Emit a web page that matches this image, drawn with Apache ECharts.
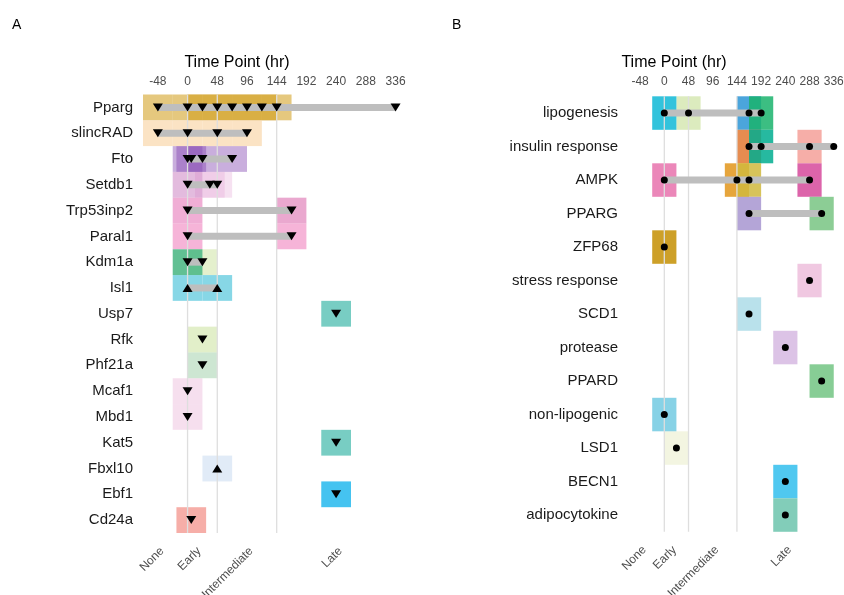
<!DOCTYPE html>
<html>
<head>
<meta charset="utf-8">
<script src="https://cdn.jsdelivr.net/npm/echarts@6/dist/echarts.min.js"></script>
<style>
  html, body { margin: 0; padding: 0; background: #fff; }
  #chart { width: 844px; height: 595px; }
</style>
</head>
<body>
<div id="chart"></div>
<script>
// panel A: genes and the time points (hr) where each one was reported
var genesA = ['Pparg', 'slincRAD', 'Fto', 'Setdb1', 'Trp53inp2', 'Paral1', 'Kdm1a', 'Isl1', 'Usp7',
  'Rfk', 'Phf21a', 'Mcaf1', 'Mbd1', 'Kat5', 'Fbxl10', 'Ebf1', 'Cd24a'];
var timesA = [
  [-48, 0, 24, 48, 72, 96, 120, 144, 336],
  [-48, 0, 48, 96],
  [0, 6, 24, 72],
  [0, 36, 48],
  [0, 168],
  [0, 168],
  [0, 24],
  [0, 48],
  [240],
  [24],
  [24],
  [0],
  [0],
  [240],
  [48],
  [240],
  [6]
];
// genes drawn with an upward triangle
var upGenesA = ['Isl1', 'Fbxl10'];

// panel B: terms and time points
var termsB = ['lipogenesis', 'insulin response', 'AMPK', 'PPARG', 'ZFP68', 'stress response', 'SCD1',
  'protease', 'PPARD', 'non-lipogenic', 'LSD1', 'BECN1', 'adipocytokine'];
var timesB = [
  [0, 48, 168, 192],
  [168, 192, 288, 336],
  [0, 144, 168, 288],
  [168, 312],
  [0],
  [288],
  [168],
  [240],
  [312],
  [0],
  [24],
  [240],
  [240]
];

// axis ticks and stage labels
var hourTicks = [-48, 0, 48, 96, 144, 192, 240, 288, 336];
var stageBreaks = [0, 48, 144];
var stageNames = ['None', 'Early', 'Intermediate', 'Late'];
var stageAt = [-48, 12, 96, 240];

// tile colours (one per time point, null = no tile)
var P = 'rgba(208,155,20,0.55)';
var F = 'rgba(135,75,180,0.45)';
var tileColorsA = [
  [P, P, P, P, P, P, P, P, null],
  ['rgba(248,208,157,0.6)', 'rgba(248,208,157,0.6)', 'rgba(248,208,157,0.6)', 'rgba(248,208,157,0.6)'],
  [F, F, F, F],
  ['rgba(200,120,190,0.5)', 'rgba(230,170,215,0.35)', 'rgba(230,170,215,0.35)'],
  ['rgba(230,120,185,0.6)', 'rgba(220,110,175,0.6)'],
  ['rgba(240,130,190,0.6)', 'rgba(240,130,190,0.6)'],
  ['rgba(80,185,135,0.9)', 'rgba(177,211,111,0.35)'],
  ['rgba(114,208,226,0.85)', 'rgba(114,208,226,0.85)'],
  ['rgba(96,196,184,0.85)'],
  ['rgba(190,220,135,0.45)'],
  ['rgba(145,200,155,0.45)'],
  ['rgba(225,150,200,0.3)'],
  ['rgba(225,150,200,0.3)'],
  ['rgba(96,196,184,0.85)'],
  ['rgba(180,205,235,0.4)'],
  ['rgba(37,184,237,0.85)'],
  ['rgba(240,120,110,0.6)']
];
var tileColorsB = [
  ['rgba(14,184,214,0.85)', 'rgba(177,211,111,0.45)', 'rgba(43,149,214,0.85)', 'rgba(26,179,108,0.85)'],
  ['rgba(226,120,49,0.85)', 'rgba(0,173,143,0.85)', 'rgba(240,120,110,0.6)', null],
  ['rgba(231,114,173,0.85)', 'rgba(226,149,26,0.85)', 'rgba(208,184,61,0.85)', 'rgba(214,73,155,0.85)'],
  ['rgba(167,149,208,0.85)', 'rgba(120,196,131,0.85)'],
  ['rgba(196,143,2,0.85)'],
  ['rgba(225,145,195,0.5)'],
  ['rgba(115,195,215,0.5)'],
  ['rgba(185,135,205,0.5)'],
  ['rgba(114,196,131,0.85)'],
  ['rgba(114,202,226,0.85)'],
  ['rgba(231,235,195,0.5)'],
  ['rgba(49,190,237,0.85)'],
  ['rgba(108,196,173,0.85)']
];

var tileHalf = 24;
var FONT = 'Liberation Sans, Arial, sans-serif';

function alphaOf(c) {
  var m = /,\s*([\d.]+)\)$/.exec(c);
  return m ? parseFloat(m[1]) : 1;
}

function tileData(times, colors) {
  var out = [];
  times.forEach(function (row, i) {
    row.forEach(function (t, j) {
      var c = colors[i][j];
      if (c) out.push({ value: [t, i, alphaOf(c)], itemStyle: { color: c } });
    });
  });
  return out;
}

function barData(times) {
  var out = [];
  times.forEach(function (row, i) {
    if (row.length > 1) out.push([Math.min.apply(null, row), Math.max.apply(null, row), i]);
  });
  return out;
}

function markerData(times, names, upList) {
  var out = [];
  times.forEach(function (row, i) {
    var up = upList && upList.indexOf(names[i]) >= 0;
    row.forEach(function (t) {
      out.push({ value: [t, i], symbolRotate: up ? 0 : 180 });
    });
  });
  return out;
}

function tileSeries(xi, yi, data) {
  return {
    type: 'custom', xAxisIndex: xi, yAxisIndex: yi, z: 1, silent: true,
    renderItem: function (params, api) {
      var p = api.coord([api.value(0) - tileHalf, api.value(1)]);
      var s = api.size([tileHalf * 2, 1]);
      return {
        type: 'rect',
        z2: Math.round(api.value(2) * 100),
        shape: { x: p[0], y: p[1] - s[1] / 2, width: s[0], height: s[1] },
        style: { fill: api.visual('color') }
      };
    },
    encode: { x: 0, y: 1 },
    data: data
  };
}

// vertical stage lines, drawn above the tiles and below the bars
function gridLineSeries(xi, yi) {
  return {
    type: 'custom', xAxisIndex: xi, yAxisIndex: yi, z: 2, silent: true,
    renderItem: function (params, api) {
      var x = api.coord([api.value(0), 0])[0];
      var cs = params.coordSys;
      return {
        type: 'line',
        shape: { x1: x, y1: cs.y, x2: x, y2: cs.y + cs.height },
        style: { stroke: '#dedede', lineWidth: 1.3 }
      };
    },
    encode: { x: 0, y: 1 },
    data: stageBreaks.map(function (v) { return [v, 0]; })
  };
}

function barSeries(xi, yi, data) {
  return {
    type: 'custom', xAxisIndex: xi, yAxisIndex: yi, z: 3, silent: true,
    renderItem: function (params, api) {
      var a = api.coord([api.value(0), api.value(2)]);
      var b = api.coord([api.value(1), api.value(2)]);
      return {
        type: 'rect',
        shape: { x: a[0], y: a[1] - 3.5, width: b[0] - a[0], height: 7 },
        style: { fill: '#bebebe' }
      };
    },
    encode: { x: [0, 1], y: 2 },
    data: data
  };
}

function topAxis(gi, max, margin) {
  return {
    type: 'value', gridIndex: gi, position: 'top', min: -72, max: max, interval: 24,
    axisLine: { show: false }, axisTick: { show: false }, splitLine: { show: false },
    axisLabel: {
      color: '#4d4d4d', fontSize: 12, fontFamily: FONT, margin: margin,
      showMinLabel: true, showMaxLabel: true,
      formatter: function (v) { return hourTicks.indexOf(v) >= 0 ? String(v) : ''; }
    }
  };
}

function bottomAxis(gi, max) {
  return {
    type: 'value', gridIndex: gi, position: 'bottom', min: -72, max: max, interval: 12,
    axisLine: { show: false }, axisTick: { show: false }, splitLine: { show: false },
    axisLabel: {
      color: '#4d4d4d', fontSize: 12, fontFamily: FONT, margin: 12, rotate: 45,
      verticalAlign: 'top',
      formatter: function (v) { var k = stageAt.indexOf(v); return k < 0 ? '' : stageNames[k]; }
    }
  };
}

function catAxis(gi, names) {
  return {
    type: 'category', gridIndex: gi, data: names, inverse: true,
    axisLine: { show: false }, axisTick: { show: false }, splitLine: { show: false },
    axisLabel: { color: '#1a1a1a', fontSize: 15, fontFamily: FONT, margin: 10, padding: [6, 0, 0, 0] }
  };
}

var chart = echarts.init(document.getElementById('chart'), null, { renderer: 'canvas' });

var option = {
  animation: false,
  backgroundColor: '#fff',
  title: [
    { text: 'A', left: 12, top: 18, padding: 0, textStyle: { fontSize: 14, fontWeight: 'normal', color: '#000', fontFamily: FONT } },
    { text: 'B', left: 452, top: 18, padding: 0, textStyle: { fontSize: 14, fontWeight: 'normal', color: '#000', fontFamily: FONT } },
    { text: 'Time Point (hr)', left: 237, textAlign: 'center', top: 55, padding: 0, textStyle: { fontSize: 16, fontWeight: 'normal', color: '#000', fontFamily: FONT } },
    { text: 'Time Point (hr)', left: 674, textAlign: 'center', top: 55, padding: 0, textStyle: { fontSize: 16, fontWeight: 'normal', color: '#000', fontFamily: FONT } }
  ],
  grid: [
    { left: 143, top: 94.5, width: 267.4, height: 438.5, outerBoundsMode: 'none' },
    { left: 628, top: 96.3, width: 211.8, height: 435.5, outerBoundsMode: 'none' }
  ],
  xAxis: [
    topAxis(0, 360, 7),
    bottomAxis(0, 360),
    topAxis(1, 348, 8.5),
    bottomAxis(1, 348)
  ],
  yAxis: [catAxis(0, genesA), catAxis(1, termsB)],
  series: [
    tileSeries(0, 0, tileData(timesA, tileColorsA)),
    gridLineSeries(0, 0),
    barSeries(0, 0, barData(timesA)),
    {
      type: 'scatter', xAxisIndex: 0, yAxisIndex: 0, z: 4, silent: true,
      symbol: 'triangle', symbolSize: [10, 8],
      itemStyle: { color: '#000', opacity: 1 },
      data: markerData(timesA, genesA, upGenesA)
    },
    tileSeries(2, 1, tileData(timesB, tileColorsB)),
    gridLineSeries(2, 1),
    barSeries(2, 1, barData(timesB)),
    {
      type: 'scatter', xAxisIndex: 2, yAxisIndex: 1, z: 4, silent: true,
      symbol: 'circle', symbolSize: 7,
      itemStyle: { color: '#000', opacity: 1 },
      data: markerData(timesB, termsB, null)
    }
  ]
};

chart.setOption(option);
</script>
</body>
</html>
